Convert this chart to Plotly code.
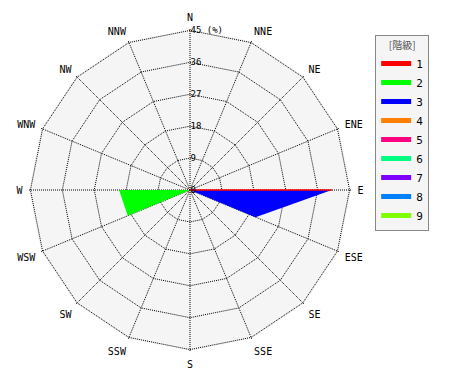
import plotly.graph_objects as go

directions = ["N", "NNE", "NE", "ENE", "E", "ESE", "SE", "SSE",
              "S", "SSW", "SW", "WSW", "W", "WNW", "NW", "NNW"]
classes = ["1", "2", "3", "4", "5", "6", "7", "8", "9"]
colors = ["#ff0000", "#00ff00", "#0000ff", "#ff8000", "#ff0080",
          "#00ff80", "#8000ff", "#0080ff", "#80ff00"]

# frequency (%) per class and direction
freq = {
    "1": [0, 0, 0, 0, 40, 0, 0, 0, 0, 0, 0, 0, 0, 0, 0, 0],
    "2": [0, 0, 0, 0, 0, 0, 0, 0, 0, 0, 0, 19, 20, 0, 0, 0],
    "3": [0, 0, 0, 0, 40, 20, 0, 0, 0, 0, 0, 0, 0, 0, 0, 0],
    "4": [0] * 16, "5": [0] * 16, "6": [0] * 16,
    "7": [0] * 16, "8": [0] * 16, "9": [0] * 16,
}
radial_ticks = [0, 9, 18, 27, 36, 45]
radial_text = ["0", "9", "18", "27", "36", "45 (%)"]
legend_title = "[階級]"

fig = go.Figure()
draw_order = ["2", "3", "4", "5", "6", "7", "8", "9", "1"]
for c in draw_order:
    col = colors[classes.index(c)]
    r = freq[c] + [freq[c][0]]
    th = directions + [directions[0]]
    fig.add_trace(go.Scatterpolar(
        r=r, theta=th, mode="lines", fill="toself", fillcolor=col,
        line=dict(color=col, width=1 if c == "1" else 0),
        showlegend=False, hoverinfo="skip"))
# legend entries
for c, col in zip(classes, colors):
    fig.add_trace(go.Scatterpolar(
        r=[None], theta=[directions[0]], mode="lines", name=c,
        line=dict(color=col, width=5), showlegend=True))

DOT = "1px,1px"
fig.update_layout(
    width=470, height=380,
    margin=dict(l=29, r=119, t=29, b=29),
    paper_bgcolor="white",
    font=dict(family="DejaVu Sans Mono", size=10, color="black"),
    polar=dict(
        domain=dict(x=[0, 1], y=[0, 1]),
        bgcolor="#f5f5f5",
        gridshape="linear",
        radialaxis=dict(range=[0, 45.4], tickvals=radial_ticks, ticktext=radial_text,
                        angle=90, tickangle=90, showline=False, ticks="",
                        gridcolor="black", griddash=DOT, gridwidth=1,
                        tickfont=dict(size=9)),
        angularaxis=dict(type="category", categoryarray=directions,
                         rotation=90, direction="clockwise",
                         showline=False, ticks="outside", ticklen=4,
                         tickcolor="rgba(0,0,0,0)",
                         gridcolor="black", griddash=DOT, gridwidth=1,
                         tickfont=dict(size=10)),
    ),
    legend=dict(x=1.075, y=0.981, xanchor="left", yanchor="top",
                bgcolor="#f5f5f5", bordercolor="#888", borderwidth=1,
                title=dict(text=legend_title, side="top center",
                           font=dict(family="Noto Sans CJK JP", size=10, color="#555")),
                font=dict(size=11), itemwidth=30, tracegroupgap=0),
)
fig.write_html("out.html")
